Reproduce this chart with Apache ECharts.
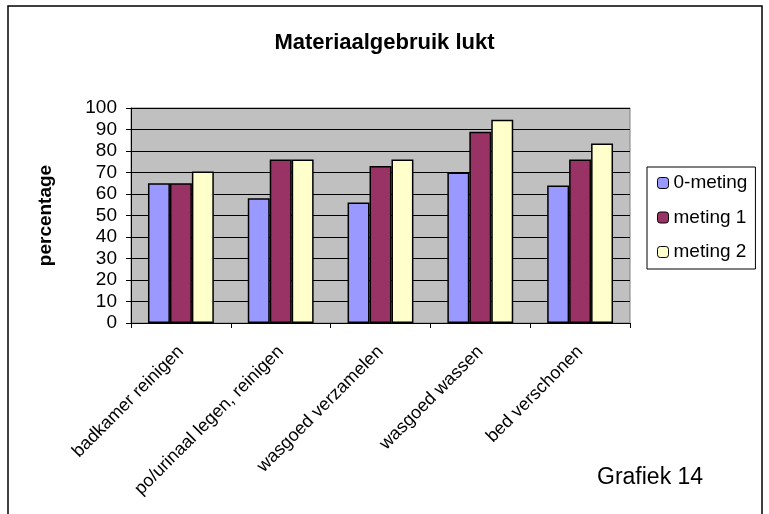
<!DOCTYPE html>
<html>
<head>
<meta charset="utf-8">
<script src="https://cdn.jsdelivr.net/npm/echarts@6/dist/echarts.min.js"></script>
<style>
html,body{margin:0;padding:0;background:#fff;}
#c{width:769px;height:514px;}
</style>
</head>
<body>
<div id="c"></div>
<script>
var categories = ['badkamer reinigen', 'po/urinaal legen, reinigen', 'wasgoed verzamelen', 'wasgoed wassen', 'bed verschonen'];
var seriesNames = ['0-meting', 'meting 1', 'meting 2'];
var meting0 = [65, 58, 56, 70, 64];
var meting1 = [65, 76, 73, 89, 76];
var meting2 = [70.5, 76, 76, 94.5, 83.5];
var yTicks = [0, 10, 20, 30, 40, 50, 60, 70, 80, 90, 100];
var colors = ['#9999FF', '#993366', '#FFFFCC'];

var FONT = "'Liberation Sans', Arial, sans-serif";
var chart = echarts.init(document.getElementById('c'), null, {renderer: 'canvas'});
var allData = [meting0, meting1, meting2];

chart.setOption({
  animation: false,
  backgroundColor: '#ffffff',
  title: {
    text: 'Materiaalgebruik lukt',
    left: 'center',
    top: 27,
    textStyle: {fontFamily: FONT, fontSize: 22, fontWeight: 'bold', color: '#000'}
  },
  legend: {
    orient: 'vertical',
    left: 647,
    top: 167,
    padding: [6, 8, 7, 10],
    borderColor: '#000',
    borderWidth: 1,
    itemWidth: 11,
    itemHeight: 11,
    itemGap: 14.5,
    itemStyle: {borderColor: '#000', borderWidth: 1},
    textStyle: {fontFamily: FONT, fontSize: 19, color: '#000', lineHeight: 20},
    data: seriesNames
  },
  grid: {
    left: 131, right: 139, top: 108, bottom: 191,
    show: true,
    backgroundColor: '#C0C0C0',
    borderColor: '#808080',
    borderWidth: 1
  },
  xAxis: {
    type: 'category',
    data: categories,
    axisLine: {lineStyle: {color: '#000', width: 1}},
    axisTick: {show: true, length: 5, lineStyle: {color: '#000'}},
    axisLabel: {
      rotate: 45,
      interval: 0,
      margin: 26,
      fontFamily: FONT,
      fontSize: 18,
      color: '#000'
    }
  },
  yAxis: {
    type: 'value',
    min: yTicks[0],
    max: yTicks[yTicks.length - 1],
    interval: 10,
    name: 'percentage',
    nameLocation: 'middle',
    nameGap: 76,
    nameRotate: 90,
    nameTextStyle: {fontFamily: FONT, fontSize: 19, fontWeight: 'bold', color: '#000'},
    axisLine: {show: true, lineStyle: {color: '#000', width: 1}},
    axisTick: {show: true, length: 5, lineStyle: {color: '#000'}},
    axisLabel: {margin: 14, fontFamily: FONT, fontSize: 19, color: '#000'},
    splitLine: {show: true, lineStyle: {color: '#000', width: 1}}
  },
  series: seriesNames.map(function (n, i) {
    return {
      name: n,
      type: 'bar',
      data: allData[i],
      barGap: '0%',
      barCategoryGap: '34%',
      itemStyle: {color: colors[i], borderColor: '#000', borderWidth: 1.5}
    };
  }),
  graphic: [
    {
      type: 'rect',
      shape: {x: 8, y: 6, width: 754, height: 530},
      style: {fill: 'none', stroke: '#000', lineWidth: 1.5},
      silent: true,
      z: 100
    },
    {
      type: 'text',
      left: 597,
      top: 466,
      style: {text: 'Grafiek 14', font: '23px ' + FONT, fill: '#000'}
    }
  ]
});
</script>
</body>
</html>
